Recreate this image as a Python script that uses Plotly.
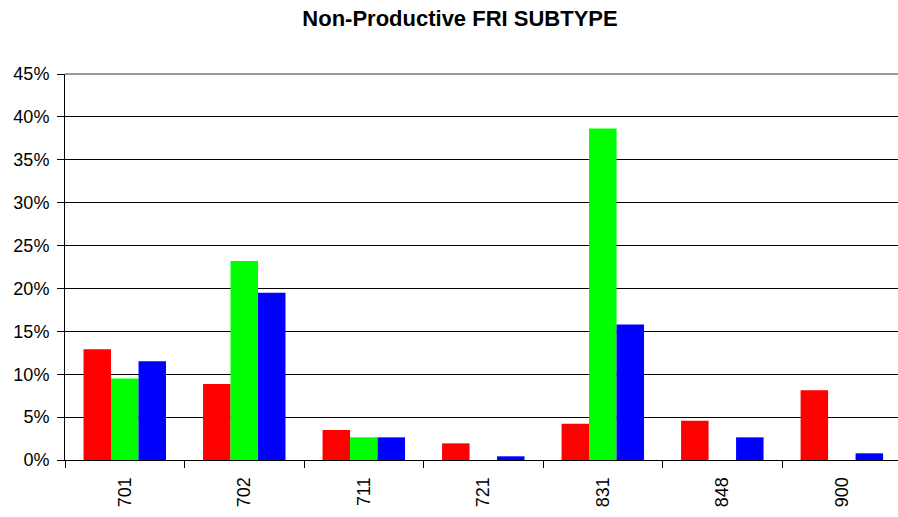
import plotly.graph_objects as go

categories = ["701", "702", "711", "721", "831", "848", "900"]
series_red = [0.129, 0.0885, 0.035, 0.0194, 0.0423, 0.0458, 0.0812]
series_green = [0.095, 0.232, 0.0264, 0.0, 0.3866, 0.0, 0.0]
series_blue = [0.115, 0.195, 0.0264, 0.0043, 0.158, 0.0264, 0.0078]
y_ticks = [0, 0.05, 0.10, 0.15, 0.20, 0.25, 0.30, 0.35, 0.40, 0.45]
y_tick_labels = ["0%", "5%", "10%", "15%", "20%", "25%", "30%", "35%", "40%", "45%"]

FONT = "Liberation Sans, Arial, sans-serif"

fig = go.Figure()
for name, vals, col in [("red", series_red, "#FF0000"),
                        ("green", series_green, "#00FF00"),
                        ("blue", series_blue, "#0000FF")]:
    fig.add_trace(go.Bar(x=categories, y=vals, name=name,
                         marker=dict(color=col, line=dict(width=0))))

fig.update_layout(
    width=898, height=517,
    barmode="group", bargap=0.31, bargroupgap=0,
    showlegend=False,
    paper_bgcolor="white", plot_bgcolor="white",
    margin=dict(l=65, r=0, t=74, b=57, autoexpand=False),
    title=dict(text="<b>Non-Productive FRI SUBTYPE</b>", x=460/898, xanchor="center",
               y=1 - 18/517, yanchor="middle",
               font=dict(family=FONT, size=22, color="black")),
    font=dict(family=FONT, color="black"),
)
fig.update_xaxes(type="category", range=[-0.5, 6.47], automargin=False,
                 showline=True, linecolor="black", linewidth=1,
                 ticks="outside", ticklen=7, tickcolor="black", tickson="boundaries",
                 tickangle=-90, tickfont=dict(family=FONT, size=18, color="black"),
                 ticklabelstandoff=9,
                 showgrid=False, zeroline=False)
fig.update_yaxes(range=[0, 0.45], tickvals=y_ticks, ticktext=y_tick_labels, automargin=False,
                 showline=True, linecolor="black", linewidth=1,
                 ticks="outside", ticklen=7, tickcolor="black",
                 tickfont=dict(family=FONT, size=18, color="black"),
                 showgrid=True, gridcolor="black", gridwidth=1, zeroline=False,
                 ticklabelstandoff=4)
fig.add_shape(type="line", xref="paper", yref="paper", x0=0, x1=1, y0=1, y1=1,
              line=dict(color="#999999", width=2))

fig.write_html("out.html", config={"displayModeBar": False},
               post_script="document.body.style.margin='0';document.body.style.overflow='hidden';")
